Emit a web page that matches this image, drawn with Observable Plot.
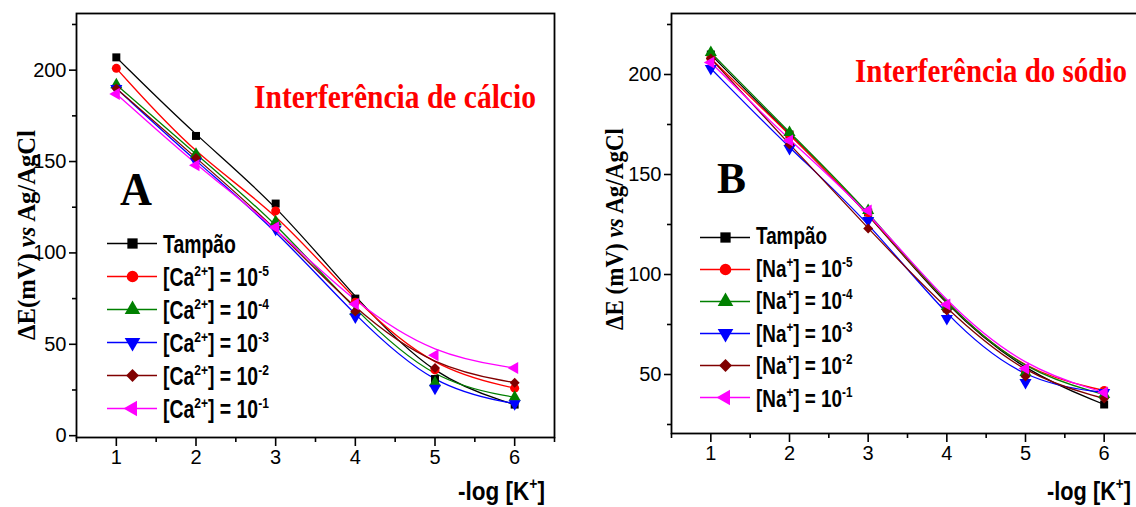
<!DOCTYPE html>
<html><head><meta charset="utf-8">
<script src="https://cdn.jsdelivr.net/npm/d3@7"></script>
<script src="https://cdn.jsdelivr.net/npm/@observablehq/plot@0.6"></script>
<style>
html,body{margin:0;padding:0;background:#fff;overflow:hidden;}
#wrap{position:relative;width:1136px;height:507px;overflow:hidden;}
#wrap > svg{position:absolute;margin:0;}
</style></head><body><div id="wrap"></div>
<script>
// ---------- data ----------
const xValues = [1, 2, 3, 4, 5, 6];

const namesA = ["Tampão", "Ca 1e-5", "Ca 1e-4", "Ca 1e-3", "Ca 1e-2", "Ca 1e-1"];
const tampaoA = [207, 164, 127, 75, 31, 17];
const ca5 = [201, 153, 123, 73, 36, 26];
const ca4 = [192, 154, 117, 68, 29, 21];
const ca3 = [190, 150, 113, 65, 26, 17.5];
const ca2 = [190, 152, 114, 68, 37, 29];
const ca1 = [187, 148, 114, 72, 44, 37];
const valuesA = [tampaoA, ca5, ca4, ca3, ca2, ca1];

const namesB = ["Tampão", "Na 1e-5", "Na 1e-4", "Na 1e-3", "Na 1e-2", "Na 1e-1"];
const tampaoB = [210, 170, 131, 83, 51, 35];
const na5 = [208, 170, 131, 84, 51, 42];
const na4 = [211, 171, 132, 84, 51, 40];
const na3 = [203, 163, 127, 78, 46, 41];
const na2 = [208, 165, 123, 82, 49, 38];
const na1 = [206, 167, 132, 85, 53, 41];
const valuesB = [tampaoB, na5, na4, na3, na2, na1];

const exponents = ["-5", "-4", "-3", "-2", "-1"];

const yMajorA = [0, 50, 100, 150, 200];
const yMinorA = [25, 75, 125, 175, 225];
const yMajorB = [50, 100, 150, 200];
const yMinorB = [25, 75, 125, 175, 225];
const xMajor = [1, 2, 3, 4, 5, 6];
const xMinor = [0.5, 1.5, 2.5, 3.5, 4.5, 5.5, 6.5];

// ---------- styles ----------
const colors = ["#000000", "#ff0000", "#008000", "#0000ff", "#800000", "#ff00ff"];
const triDown = {draw(ctx, size) {
  const a = Math.sqrt(size * 4 / Math.sqrt(3)), h = a * Math.sqrt(3) / 2;
  ctx.moveTo(0, 2 * h / 3); ctx.lineTo(-a / 2, -h / 3); ctx.lineTo(a / 2, -h / 3); ctx.closePath();
}};
const triLeft = {draw(ctx, size) {
  const a = Math.sqrt(size * 4 / Math.sqrt(3)), h = a * Math.sqrt(3) / 2;
  ctx.moveTo(-2 * h / 3, 0); ctx.lineTo(h / 3, -a / 2); ctx.lineTo(h / 3, a / 2); ctx.closePath();
}};
const symbols = ["square", "circle", "triangle", triDown, "diamond2", triLeft];
const SANS = "'Liberation Sans', Arial, sans-serif";
const SERIF = "'Liberation Serif', 'Times New Roman', serif";

function rowsOf(names, values) {
  const rows = [];
  names.forEach((s, i) => values[i].forEach((v, j) => rows.push({s, x: xValues[j], v})));
  return rows;
}

function panel(o) {
  const rows = rowsOf(o.names, o.values);
  const svg = Plot.plot({
    width: o.width, height: 507,
    marginLeft: o.marginLeft, marginRight: o.marginRight, marginTop: 13, marginBottom: o.marginBottom,
    style: {fontFamily: SANS, fontSize: "20px", color: "black", background: "transparent", overflow: "visible"},
    x: {domain: [0.5, 6.5], axis: null},
    y: {domain: o.yDomain, axis: null},
    color: {domain: o.names, range: colors},
    symbol: {domain: o.names, range: symbols},
    marks: [
      Plot.axisY(o.yMajor, {tickSize: 7, tickPadding: 3, strokeWidth: 1.6, label: null}),
      Plot.axisY(o.yMinor, {tickSize: 4, text: null, strokeWidth: 1.6, label: null}),
      Plot.axisX(xMajor, {tickSize: 9, tickPadding: 3, strokeWidth: 1.6, label: null}),
      Plot.axisX(xMinor, {tickSize: 5, text: null, strokeWidth: 1.6, label: null}),
      Plot.line(rows, {x: "x", y: "v", z: "s", stroke: "s", curve: "basis", strokeWidth: 1.3}),
      Plot.dot(rows, {x: "x", y: "v", symbol: "s", fill: "s", r: 4.5}),
      Plot.frame({stroke: "black", strokeWidth: 1.8})
    ]
  });
  svg.style.left = o.left + "px"; svg.style.top = "0px";
  return svg;
}

function legend(o) {
  const svg = Plot.plot({
    width: 70, height: o.rowEnd + 10, margin: 0,
    x: {domain: [0, 1], range: [10, 60], axis: null},
    y: {type: "point", domain: o.names, range: [10, o.rowEnd], padding: 0, axis: null},
    color: {domain: o.names, range: colors},
    symbol: {domain: o.names, range: symbols},
    style: {background: "transparent", overflow: "visible"},
    marks: [
      Plot.ruleY(o.names, {y: d => d, x1: 0, x2: 1, stroke: d => d, strokeWidth: 1.3}),
      Plot.dot(o.names, {x: 0.5, y: d => d, symbol: d => d, fill: d => d, r: 5.8})
    ]
  });
  svg.style.left = o.left + "px"; svg.style.top = o.top + "px";
  return svg;
}

const wrap = document.getElementById("wrap");
wrap.appendChild(panel({names: namesA, values: valuesA, yDomain: [-1, 231], yMajor: yMajorA, yMinor: yMinorA,
  width: 600, marginLeft: 76, marginRight: 46, marginBottom: 70, left: 0}));
wrap.appendChild(panel({names: namesB, values: valuesB, yDomain: [20.5, 230.5], yMajor: yMajorB, yMinor: yMinorB,
  width: 553, marginLeft: 71, marginRight: 10, marginBottom: 74, left: 600}));
wrap.appendChild(legend({names: namesA, rowEnd: 175, left: 97, top: 233}));
wrap.appendChild(legend({names: namesB, rowEnd: 173, left: 690, top: 225}));

// ---------- text overlay ----------
const ov = d3.select(wrap).append("svg").attr("width", 1136).attr("height", 507)
  .style("left", "0px").style("top", "0px");

function addText(x, y, parts, o) {
  const t = ov.append("text").attr("x", 0).attr("y", 0)
    .attr("font-family", o.family).attr("font-size", o.size).attr("font-weight", "bold")
    .attr("fill", o.fill || "black").attr("text-anchor", o.anchor || "start");
  let raised = false;
  parts.forEach(p => {
    const sp = t.append("tspan").text(p.t);
    if (p.italic) sp.attr("font-style", "italic");
    if (p.sup && !raised) { sp.attr("font-size", o.size * 0.62).attr("dy", -o.size * 0.42); raised = true; }
    else if (!p.sup && raised) { sp.attr("dy", o.size * 0.42); raised = false; }
    else if (p.sup) sp.attr("font-size", o.size * 0.62);
  });
  let k = o.scale;
  if (k == null) k = o.width ? o.width / t.node().getComputedTextLength() : 1;
  t.attr("transform", `translate(${x},${y}) rotate(${o.rotate || 0}) scale(${k},1)`);
  return k;
}

// titles
addText(254, 108, [{t: "Interferência de cálcio"}], {family: SERIF, size: 34, fill: "#ff0000", width: 282});
addText(855, 82, [{t: "Interferência do sódio"}], {family: SERIF, size: 34, fill: "#ff0000", width: 272});
addText(120, 205, [{t: "A"}], {family: SERIF, size: 46, width: 32});
addText(717, 193, [{t: "B"}], {family: SERIF, size: 44, width: 29});

// y labels
addText(35, 235, [{t: "ΔE(mV) "}, {t: "vs", italic: true}, {t: " Ag/AgCl"}], {family: SERIF, size: 26, rotate: -90, anchor: "middle", width: 210});
addText(623, 229, [{t: "ΔE (mV) "}, {t: "vs", italic: true}, {t: " Ag/AgCl"}], {family: SERIF, size: 25, rotate: -90, anchor: "middle", width: 202});

// x labels
const xlab = [{t: "-log [K"}, {t: "+", sup: true}, {t: "]"}];
addText(458, 500, xlab, {family: SANS, size: 26, width: 87});
addText(1047, 500, xlab, {family: SANS, size: 26, width: 84});

// legend labels
const rowsA = [243, 276, 309, 342, 375, 408];
const rowsB = [235, 268, 300, 333, 365, 398];
const kA = addText(163, rowsA[0] + 10, [{t: namesA[0]}], {family: SANS, size: 25, width: 73});
exponents.forEach((e, i) => addText(163, rowsA[i + 1] + 10,
  [{t: "[Ca"}, {t: "2+", sup: true}, {t: "] = 10"}, {t: e, sup: true}], {family: SANS, size: 25, scale: kA}));
const kB = addText(756, rowsB[0] + 9, [{t: namesB[0]}], {family: SANS, size: 23, width: 71});
exponents.forEach((e, i) => addText(756, rowsB[i + 1] + 9,
  [{t: "[Na"}, {t: "+", sup: true}, {t: "] = 10"}, {t: e, sup: true}], {family: SANS, size: 23, scale: kB}));
</script></body></html>
